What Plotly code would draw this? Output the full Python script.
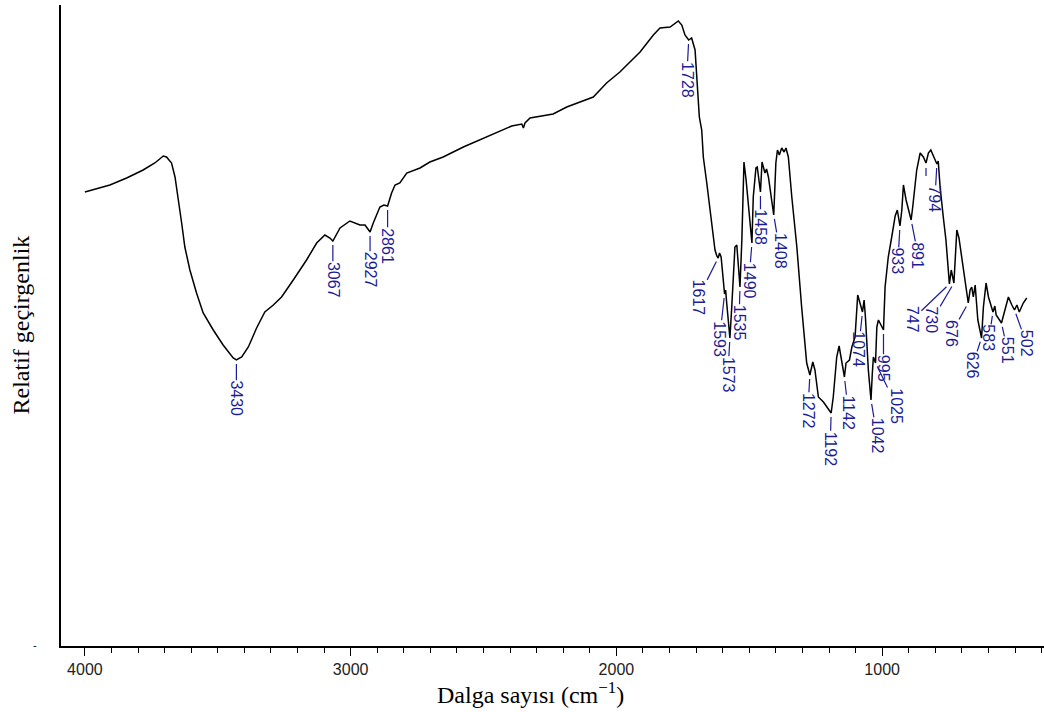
import numpy as np
import plotly.graph_objects as go

# FTIR spectrum: wavenumber (cm^-1) and relative transmittance (arbitrary units)
wavenumber = [
    4000, 3906, 3843, 3781, 3737, 3705, 3693, 3674, 3661, 3649, 3636, 3624, 3605,
    3580, 3555, 3517, 3480, 3442, 3430, 3410, 3385, 3354, 3323, 3291, 3260, 3216,
    3166, 3128, 3097, 3078, 3067, 3040, 3003, 2965, 2946, 2927, 2915, 2890, 2875,
    2861, 2846, 2833, 2815, 2789, 2739, 2702, 2652, 2576, 2513, 2451, 2394, 2356,
    2350, 2344, 2325, 2238, 2187, 2087, 2037, 1987, 1911, 1861, 1836, 1798, 1767,
    1754, 1742, 1728, 1717, 1704, 1698, 1688, 1679, 1673, 1660, 1641, 1629, 1622,
    1617, 1612, 1606, 1593, 1589, 1585, 1573, 1566, 1554, 1547, 1535, 1528, 1520,
    1512, 1490, 1485, 1475, 1470, 1458, 1452, 1446, 1441, 1435, 1428, 1408, 1400,
    1394, 1387, 1378, 1369, 1362, 1353, 1340, 1321, 1303, 1284, 1272, 1261, 1253,
    1240, 1221, 1202, 1192, 1184, 1171, 1162, 1152, 1142, 1136, 1123, 1114, 1102,
    1092, 1083, 1074, 1068, 1063, 1052, 1042, 1037, 1033, 1025, 1020, 1014, 995,
    989, 977, 964, 951, 943, 933, 926, 920, 910, 891, 885, 870, 857, 845, 835,
    826, 817, 807, 794, 789, 782, 770, 760, 747, 740, 730, 726, 719, 711, 700,
    676, 669, 663, 657, 650, 640, 626, 619, 609, 600, 583, 576, 571, 551, 541,
    525, 512, 502, 493, 484, 469, 456,
]
transmittance = [
    454, 461, 468, 476, 483, 490, 489, 483, 469, 449, 423, 399, 376,
    353, 333, 316, 301, 288, 286, 289, 299, 318, 334, 341, 349, 366,
    386, 403, 411, 408, 405, 418, 425, 421, 421, 414, 423, 439, 441,
    440, 453, 461, 463, 473, 478, 484, 489, 499, 506, 513, 520, 522,
    518, 523, 528, 532, 539, 549, 563, 574, 594, 611, 618, 619, 625,
    621, 611, 606, 608, 596, 573, 529, 516, 489, 463, 423, 396, 390,
    388, 393, 389, 352, 356, 343, 308, 339, 399, 401, 359, 406, 484,
    466, 403, 449, 478, 479, 454, 484, 479, 473, 477, 469, 431, 483,
    496, 491, 498, 494, 498, 489, 449, 399, 339, 283, 271, 284, 276,
    249, 244, 237, 233, 249, 289, 300, 286, 269, 283, 286, 299, 309,
    351, 343, 334, 346, 329, 276, 246, 273, 289, 283, 319, 326, 316,
    359, 389, 409, 430, 436, 420, 436, 461, 446, 426, 439, 476, 493, 489, 483,
    493, 496, 489, 482, 485, 459, 429, 406, 362, 376, 363, 386, 416, 408, 389,
    343, 356, 359, 349, 361, 326, 308, 339, 363, 349, 334, 340, 331, 323, 334,
    349, 341, 336, 341, 334, 343, 348,
]

# Peak labels (cm^-1) and their label offsets in pixels
peak_labels = [3430, 3067, 2927, 2861, 1728, 1617, 1593, 1573, 1535, 1490, 1458,
               1408, 1272, 1192, 1142, 1074, 1042, 1025, 995, 933, 891, 794, 747,
               730, 676, 626, 583, 551, 502]
label_dx = [0, 0, 0, 0, -2, -20, -5, -2, -1, -3, 0,
            6, -2, -1, 4, -4, 6, 21, 0, -2, 7, -2, -37,
            -22, -17, -9, -4, 6, 12]
label_gap = [21, 21, 20, 22, 22, 22, 27, 19, 18, 20, 18,
             18, 18, 18, 18, 20, 18, 25, 25, 22, 22, 22, 22,
             24, 17, 14, 13, 14, 20]

# unlabeled tick mark on the shoulder near 835 cm^-1
stub_marks = [835]

LABEL_BLUE = "#1c1c96"
DIGIT_W = 8.9

wn_arr = np.array(wavenumber, dtype=float)
tr_arr = np.array(transmittance, dtype=float)
order = np.argsort(wn_arr)

def curve_at(w):
    return float(np.interp(w, wn_arr[order], tr_arr[order]))

fig = go.Figure()
fig.add_trace(go.Scatter(
    x=wavenumber, y=transmittance, mode="lines",
    line=dict(color="black", width=1.5), hoverinfo="skip", showlegend=False,
))

annotations = []
for w, dx, gap in zip(peak_labels, label_dx, label_gap):
    txt = str(w)
    h = len(txt) * DIGIT_W
    annotations.append(dict(
        x=w, y=curve_at(w), xref="x", yref="y",
        text=txt, textangle=90,
        font=dict(family="Arial, Liberation Sans", size=16, color=LABEL_BLUE),
        showarrow=True, arrowhead=0, arrowwidth=1.2, arrowcolor=LABEL_BLUE,
        ax=dx, ay=gap + h / 2, axref="pixel", ayref="pixel",
        standoff=4, borderpad=0,
    ))

# y axis spans 641 units over 641 px, so one unit is one pixel
shapes = []
for w in stub_marks:
    yc = curve_at(w)
    shapes.append(dict(
        type="line", xref="x", yref="y", x0=w, x1=w, y0=yc - 5, y1=yc - 13,
        line=dict(color=LABEL_BLUE, width=1.2),
    ))

# axis titles
annotations.append(dict(
    x=0.478, y=0, xref="paper", yref="paper", yshift=-47,
    text="Dalga sayısı (cm<sup>−1</sup>)", showarrow=False,
    xanchor="center", yanchor="middle",
    font=dict(family="Times New Roman, Liberation Serif", size=24, color="black"),
))
annotations.append(dict(
    x=0, y=0.5, xref="paper", yref="paper", xshift=-41,
    text="Relatif geçirgenlik", showarrow=False, textangle=-90,
    xanchor="center", yanchor="middle",
    font=dict(family="Times New Roman, Liberation Serif", size=24, color="black"),
))
annotations.append(dict(
    x=0, y=0, xref="paper", yref="paper", xshift=-26, yshift=1,
    text="-", showarrow=False, xanchor="center", yanchor="middle",
    font=dict(family="Arial, Liberation Sans", size=11, color="black"),
))

fig.update_layout(
    width=1044, height=712, autosize=False,
    margin=dict(l=61, r=0, t=5, b=66),
    paper_bgcolor="white", plot_bgcolor="white",
    annotations=annotations, shapes=shapes,
    xaxis=dict(
        range=[4090, 391], showgrid=False, zeroline=False,
        showline=True, linecolor="black", linewidth=1.5,
        ticks="outside", ticklen=8, tickwidth=1.2, tickcolor="black",
        tick0=0, dtick=1000,
        tickfont=dict(family="Arial, Liberation Sans", size=16, color="#222"),
        minor=dict(dtick=100, ticks="outside", ticklen=5, tickwidth=1.2,
                   tickcolor="black", showgrid=False),
    ),
    yaxis=dict(
        range=[0, 641], showgrid=False, zeroline=False,
        showline=True, linecolor="black", linewidth=1.5,
        showticklabels=False, ticks="",
    ),
)

fig.write_html("out.html")
